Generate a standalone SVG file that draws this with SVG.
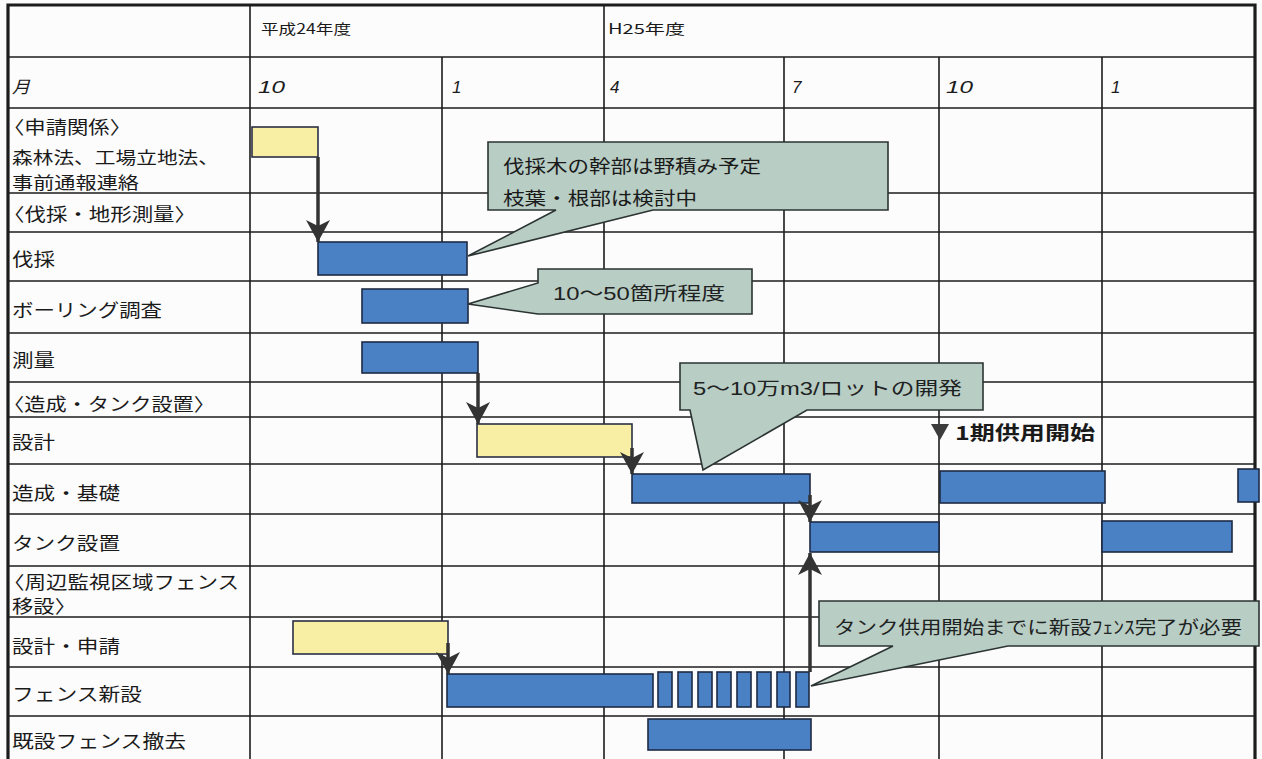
<svg xmlns="http://www.w3.org/2000/svg" width="1262" height="759" viewBox="0 0 1262 759">
<style>
.bg{fill:#fcfcfc}
.g{stroke:#1c1c1c;stroke-width:1.6;fill:none}
.frame{stroke:#1c1c1c;stroke-width:3.2;fill:none}
.t{font-family:'Noto Sans CJK JP','Noto Sans CJK SC',sans-serif;font-size:18px;fill:#1a1a1a}
.s{font-size:17px}
.h{font-family:'Noto Sans CJK JP',sans-serif;font-size:14px;fill:#1a1a1a}
.m{font-family:'Liberation Sans','Noto Sans CJK JP',sans-serif;font-size:17px;font-style:italic;fill:#1a1a1a}
.c{font-family:'Liberation Sans','Noto Sans CJK JP',sans-serif;font-size:18px;fill:#1e2222}
.b{fill:#4a80c4;stroke:#1d2a44;stroke-width:1.6}
.y{fill:#f9efa4;stroke:#2a2f44;stroke-width:1.6}
.co{fill:#b8cdc4;stroke:#2b3333;stroke-width:1.6}
.ar{stroke:#333;stroke-width:3.5;fill:none}
</style>
<defs>
<marker id="ah" markerUnits="userSpaceOnUse" markerWidth="22" markerHeight="24" refX="22" refY="12" orient="auto">
<path d="M0,0 L22,12 L0,24 L6,12 Z" fill="#333"/>
</marker>
</defs>
<rect class="bg" x="0" y="0" width="1262" height="759"/>
<g id="grid">
<path class="g" d="M8,57 H1255 M8,108 H1255 M8,193 H1255 M8,232 H1255 M8,281 H1255 M8,333 H1255 M8,382 H1255 M8,417 H1255 M8,464 H1255 M8,514 H1255 M8,566 H1255 M8,617 H1255 M8,667 H1255 M8,716 H1255"/>
<path class="g" d="M250,5 V759 M442,57 V759 M604,5 V759 M784,57 V759 M939,57 V759 M1102,57 V759"/>
<path class="frame" d="M8,759 V5 H1255 V759"/>
</g>
<g id="header">
<text class="h" x="261" y="34" textLength="90" lengthAdjust="spacingAndGlyphs">平成24年度</text>
<text class="h" x="608" y="34" textLength="77" lengthAdjust="spacingAndGlyphs">H25年度</text>
<text class="m" x="12" y="93" textLength="18" lengthAdjust="spacingAndGlyphs">月</text>
<text class="m" x="258" y="93" textLength="27" lengthAdjust="spacingAndGlyphs">10</text>
<text class="m" x="452" y="93">1</text>
<text class="m" x="610" y="93">4</text>
<text class="m" x="792" y="93">7</text>
<text class="m" x="946" y="93" textLength="27" lengthAdjust="spacingAndGlyphs">10</text>
<text class="m" x="1111" y="93">1</text>
</g>
<g id="labels">
<text class="t" x="3" y="134" textLength="128" lengthAdjust="spacingAndGlyphs">〈申請関係〉</text>
<text class="t s" x="12" y="164" textLength="207" lengthAdjust="spacingAndGlyphs">森林法、工場立地法、</text>
<text class="t s" x="12" y="189" textLength="127" lengthAdjust="spacingAndGlyphs">事前通報連絡</text>
<text class="t" x="3" y="221" textLength="193" lengthAdjust="spacingAndGlyphs">〈伐採・地形測量〉</text>
<text class="t" x="12" y="266" textLength="43" lengthAdjust="spacingAndGlyphs">伐採</text>
<text class="t" x="12" y="317" textLength="150" lengthAdjust="spacingAndGlyphs">ボーリング調査</text>
<text class="t" x="12" y="367" textLength="43" lengthAdjust="spacingAndGlyphs">測量</text>
<text class="t" x="3" y="411" textLength="212" lengthAdjust="spacingAndGlyphs">〈造成・タンク設置〉</text>
<text class="t" x="12" y="449" textLength="43" lengthAdjust="spacingAndGlyphs">設計</text>
<text class="t" x="12" y="500" textLength="108" lengthAdjust="spacingAndGlyphs">造成・基礎</text>
<text class="t" x="12" y="550" textLength="108" lengthAdjust="spacingAndGlyphs">タンク設置</text>
<text class="t" x="3" y="589" textLength="236" lengthAdjust="spacingAndGlyphs">〈周辺監視区域フェンス</text>
<text class="t" x="12" y="613" textLength="64" lengthAdjust="spacingAndGlyphs">移設〉</text>
<text class="t" x="12" y="653" textLength="108" lengthAdjust="spacingAndGlyphs">設計・申請</text>
<text class="t" x="12" y="701" textLength="130" lengthAdjust="spacingAndGlyphs">フェンス新設</text>
<text class="t" x="12" y="748" textLength="174" lengthAdjust="spacingAndGlyphs">既設フェンス撤去</text>
</g>
<g id="bars">
<rect class="y" x="252" y="127" width="66" height="30"/>
<rect class="b" x="318" y="242" width="149" height="33"/>
<rect class="b" x="362" y="289" width="106" height="34"/>
<rect class="b" x="362" y="342" width="116" height="31"/>
<rect class="y" x="477" y="424" width="155" height="33"/>
<rect class="b" x="632" y="474" width="178" height="29"/>
<rect class="b" x="940" y="471" width="165" height="32"/>
<rect class="b" x="1238" y="469" width="21" height="33"/>
<rect class="b" x="810" y="522" width="129" height="30"/>
<rect class="b" x="1102" y="521" width="130" height="31"/>
<rect class="y" x="293" y="621" width="155" height="33"/>
<rect class="b" x="447" y="674" width="206" height="33"/>
<rect class="b" x="658" y="672" width="14" height="35"/>
<rect class="b" x="678" y="672" width="14" height="35"/>
<rect class="b" x="698" y="672" width="14" height="35"/>
<rect class="b" x="717" y="672" width="14" height="35"/>
<rect class="b" x="737" y="672" width="14" height="35"/>
<rect class="b" x="757" y="672" width="14" height="35"/>
<rect class="b" x="777" y="672" width="13" height="35"/>
<rect class="b" x="796" y="672" width="13" height="35"/>
<rect class="b" x="648" y="719" width="163" height="31"/>
</g>
<g id="connectors">
<path class="ar" d="M318,157 V242" marker-end="url(#ah)"/>
<path class="ar" d="M478,373 V424" marker-end="url(#ah)"/>
<path class="ar" d="M632,448 V474" marker-end="url(#ah)"/>
<path class="ar" d="M810,495 V522" marker-end="url(#ah)"/>
<path class="ar" d="M448,643 V674" marker-end="url(#ah)"/>
<path class="ar" d="M810,672 V553" marker-end="url(#ah)"/>
</g>
<g id="milestone">
<polygon points="931,424 949,424 940,440" fill="#3c3c3c"/>
<text class="t" x="955" y="440" style="font-size:19px;font-weight:bold" textLength="140" lengthAdjust="spacingAndGlyphs">1期供用開始</text>
</g>
<g id="callout1">
<path class="co" d="M488,142 H888 V210 H653 L468,256 L556,210 H488 Z"/>
<text class="t" x="503" y="173" textLength="258" lengthAdjust="spacingAndGlyphs">伐採木の幹部は野積み予定</text>
<text class="t" x="503" y="205" textLength="194" lengthAdjust="spacingAndGlyphs">枝葉・根部は検討中</text>
</g>
<g id="callout2">
<path class="co" d="M538,269 H752 V314 H538 L468,304 L538,283 Z"/>
<text class="c" x="553" y="300" textLength="172" lengthAdjust="spacingAndGlyphs">10～50箇所程度</text>
</g>
<g id="callout3">
<path class="co" d="M680,363 H983 V410 H807 L703,470 L690,410 H680 Z"/>
<text class="c" x="693" y="395" textLength="269" lengthAdjust="spacingAndGlyphs">5～10万m3/ロットの開発</text>
</g>
<g id="callout4">
<path class="co" d="M819,601 H1259 V646 H1008 L811,686 L893,646 H819 Z"/>
<text class="c" x="834" y="634" textLength="408" lengthAdjust="spacingAndGlyphs">タンク供用開始までに新設ﾌｪﾝｽ完了が必要</text>
</g>
</svg>
